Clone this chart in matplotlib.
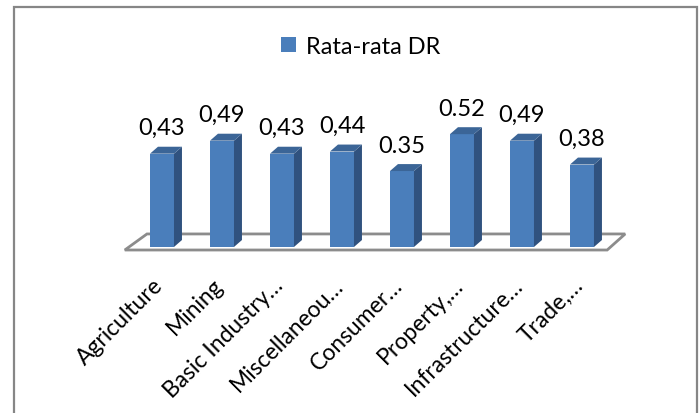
import numpy as np
import matplotlib
matplotlib.use("Agg")
import matplotlib.pyplot as plt
from matplotlib.patches import Polygon, Rectangle
from matplotlib.transforms import ScaledTranslation

# ---- data -----------------------------------------------------------------
sectors = ["Agriculture", "Mining", "Basic Industry…", "Miscellaneou…",
           "Consumer…", "Property,…", "Infrastructure…", "Trade,…"]
avg_dr = [0.43, 0.49, 0.43, 0.44, 0.35, 0.52, 0.49, 0.38]
value_labels = ["0,43", "0,49", "0,43", "0,44", "0.35", "0.52", "0,49", "0,38"]
series_name = "Rata-rata DR"

# ---- style ----------------------------------------------------------------
plt.rcParams["font.family"] = ["Lato", "DejaVu Sans"]
FRONT = "#4a7ebb"
SIDE = "#30527f"
TOP = "#3b6597"
FLOOR = "#8c8c8c"

fig = plt.figure(figsize=(7, 4.14), dpi=100)
ax = fig.add_axes([0.1457, 0.3696, 0.7714, 0.4507])

x = np.arange(len(sectors))
w = 0.4          # bar width (category units)
dx, dy = 0.133, 0.032   # depth offset of the 3d look

# floor of the 3d plot area
n = len(sectors)
floor = Polygon([(-0.62, -0.014), (n - 1 + 0.42, -0.014),
                 (n - 1 + 0.72, 0.06), (-0.25, 0.06)],
                closed=True, facecolor="white", edgecolor=FLOOR, lw=2, zorder=1)
ax.add_patch(floor)

bars = ax.bar(x, avg_dr, width=w, color=FRONT, label=series_name, zorder=3)

for xi, v, lab in zip(x, avg_dr, value_labels):
    r = xi + w / 2
    l = xi - w / 2
    ax.add_patch(Polygon([(r, 0), (r + dx, dy), (r + dx, v + dy), (r, v)],
                         closed=True, facecolor=SIDE, edgecolor="none", zorder=3))
    ax.add_patch(Polygon([(l, v), (r, v), (r + dx, v + dy), (l + dx, v + dy)],
                         closed=True, facecolor=TOP, edgecolor="none", zorder=3))
    ax.annotate(lab, (xi, v), xytext=(0, 14), textcoords="offset points",
                ha="center", va="baseline", fontsize=17, color="black")

ax.set_xlim(-1, n)
ax.set_ylim(-0.06, 0.8)
ax.set_xticks(x)
ax.set_xticklabels(sectors, rotation=45, ha="right", rotation_mode="anchor",
                   fontsize=16.5)
ax.tick_params(axis="x", length=0, pad=10)
shift = ScaledTranslation(-7 / 72, 0, fig.dpi_scale_trans)
for t in ax.get_xticklabels():
    t.set_transform(t.get_transform() + shift)
ax.set_yticks([])
for s in ax.spines.values():
    s.set_visible(False)
ax.patch.set_alpha(0)

fig.legend(handles=[bars], labels=[series_name], loc="center",
           bbox_to_anchor=(0.515, 0.886), frameon=False, fontsize=17,
           handlelength=0.65, handleheight=0.65, handletextpad=0.4)

# chart border
fig.patches.append(Rectangle((13.5 / 700, -0.1), (697 - 13.5) / 700, 1.1 - 8 / 414,
                             transform=fig.transFigure, fill=False,
                             edgecolor="#868686", lw=1.6, clip_on=False))

fig.savefig("out.png", dpi=100)
